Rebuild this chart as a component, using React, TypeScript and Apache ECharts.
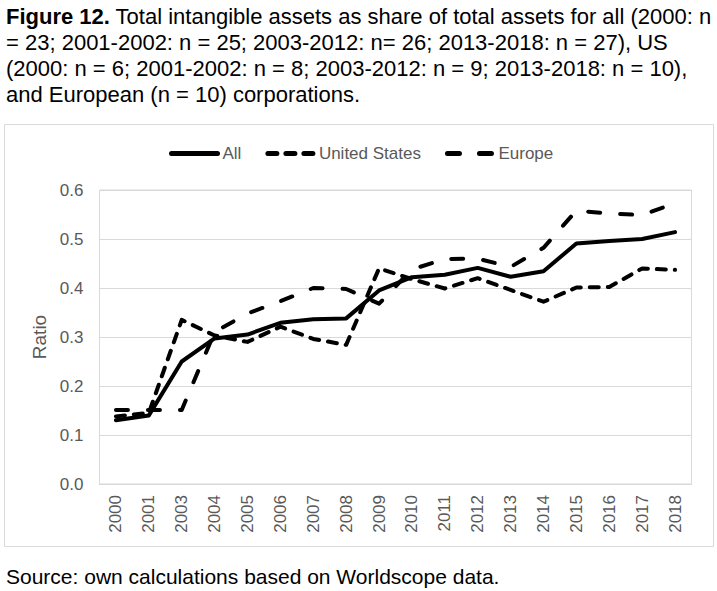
import React, { useEffect, useRef } from "react";
import * as echarts from "echarts";

const years = ["2000", "2001", "2003", "2004", "2005", "2006", "2007", "2008", "2009", "2010", "2011", "2012", "2013", "2014", "2015", "2016", "2017", "2018"];
const allValues = [0.13, 0.14, 0.25, 0.297, 0.305, 0.329, 0.336, 0.338, 0.395, 0.422, 0.427, 0.441, 0.423, 0.434, 0.491, 0.496, 0.5, 0.514];
const usValues = [0.138, 0.145, 0.335, 0.303, 0.29, 0.321, 0.296, 0.284, 0.44, 0.418, 0.399, 0.42, 0.396, 0.372, 0.401, 0.402, 0.44, 0.437];
const europeValues = [0.151, 0.151, 0.151, 0.31, 0.348, 0.373, 0.4, 0.398, 0.368, 0.438, 0.459, 0.46, 0.443, 0.482, 0.558, 0.552, 0.549, 0.573];
const seriesNames = ["All", "United States", "Europe"];
const titleLines = [
  "{b|Figure 12.} Total intangible assets as share of total assets for all (2000: n",
  "= 23; 2001-2002: n = 25; 2003-2012: n= 26; 2013-2018: n = 27), US",
  "(2000: n = 6; 2001-2002: n = 8; 2003-2012: n = 9; 2013-2018: n = 10),",
  "and European (n = 10) corporations.",
];
const sourceText = "Source: own calculations based on Worldscope data.";
const yAxisName = "Ratio";

const FONT = "'Liberation Sans', Arial, Helvetica, sans-serif";
const GREY = "#595959";
const LINE_GREY = "#d9d9d9";

export default function App() {
  const ref = useRef<HTMLDivElement>(null);
  useEffect(() => {
    if (!ref.current) return;
    const chart = echarts.init(ref.current, undefined, { renderer: "svg" });
    const titleY = [16, 42, 68, 94];
    const graphics: any[] = titleLines.map((t, i) => ({
      type: "text",
      x: 6,
      y: titleY[i],
      style: {
        text: t,
        fontSize: 22,
        fontFamily: FONT,
        fill: "#000",
        verticalAlign: "middle",
        align: "left",
        rich: { b: { fontWeight: "bold", fontSize: 22, fontFamily: FONT, fill: "#000" } },
      },
    }));
    graphics.push({
      type: "rect",
      shape: { x: 4.5, y: 124.5, width: 709, height: 422 },
      style: { fill: "none", stroke: LINE_GREY, lineWidth: 1 },
      silent: true,
    });
    graphics.push({
      type: "text",
      x: 6,
      y: 576,
      style: { text: sourceText, fontSize: 21, fontFamily: FONT, fill: "#000", verticalAlign: "middle", align: "left" },
    });
    const lineBase = { type: "line", symbol: "none", showSymbol: false };
    chart.setOption({
      animation: false,
      textStyle: { fontFamily: FONT },
      graphic: graphics,
      legend: {
        left: 164,
        top: 140,
        itemWidth: 46,
        itemHeight: 17,
        itemGap: 24,
        itemStyle: { opacity: 0 },
        lineStyle: { width: 5, cap: "round" },
        textStyle: { fontSize: 17, color: GREY, fontFamily: FONT },
        data: seriesNames,
      },
      grid: {
        left: 99.5,
        top: 190,
        right: 25.5,
        bottom: 107,
        show: true,
        borderColor: LINE_GREY,
        borderWidth: 1,
        containLabel: false,
      },
      xAxis: {
        type: "category",
        data: years,
        boundaryGap: true,
        axisLine: { lineStyle: { color: LINE_GREY, width: 1 } },
        axisTick: { show: false },
        axisLabel: { rotate: 90, fontSize: 17, color: GREY, margin: 11, interval: 0, fontFamily: FONT },
      },
      yAxis: {
        type: "value",
        min: 0,
        max: 0.6,
        interval: 0.1,
        name: yAxisName,
        nameLocation: "middle",
        nameGap: 51,
        nameTextStyle: { fontSize: 19, color: GREY, fontFamily: FONT },
        axisLine: { show: false },
        axisTick: { show: false },
        axisLabel: { fontSize: 17, color: GREY, margin: 16, formatter: (v: number) => v.toFixed(1), fontFamily: FONT },
        splitLine: { lineStyle: { color: LINE_GREY, width: 1 } },
      },
      series: [
        { ...lineBase, name: seriesNames[0], data: allValues, lineStyle: { color: "#000", width: 4, type: "solid", cap: "round", join: "round" }, itemStyle: { color: "#000" } },
        { ...lineBase, name: seriesNames[1], data: usValues, lineStyle: { color: "#000", width: 4, type: [9, 9], cap: "round", join: "round" }, itemStyle: { color: "#000" } },
        { ...lineBase, name: seriesNames[2], data: europeValues, lineStyle: { color: "#000", width: 4, type: [12, 20], cap: "round", join: "round" }, itemStyle: { color: "#000" } },
      ],
    });
    return () => chart.dispose();
  }, []);
  return <div ref={ref} style={{ position: "absolute", left: 0, top: 0, width: 717, height: 591 }} />;
}
